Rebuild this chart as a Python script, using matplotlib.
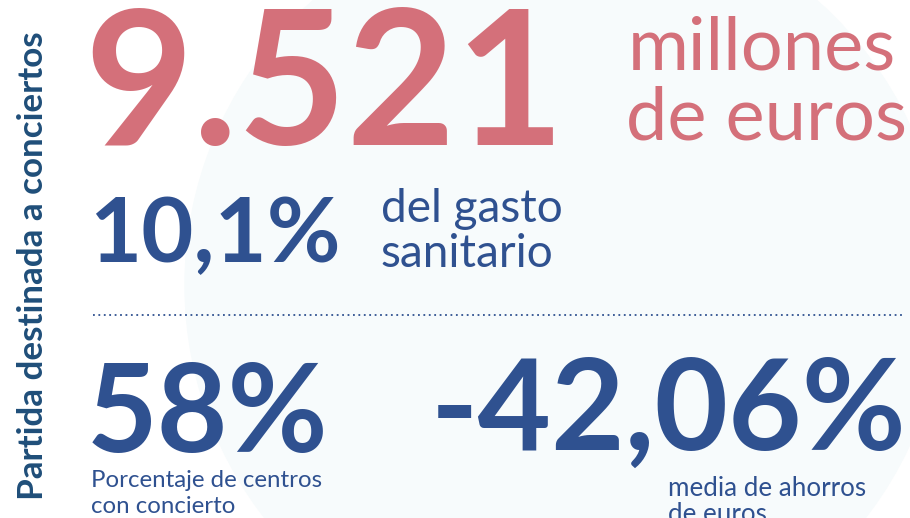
import matplotlib
matplotlib.use("Agg")
import matplotlib.pyplot as plt
from matplotlib.patches import Circle

# ---- data ----
main_value = "9.521"
main_unit = ["millones", "de euros"]
share_value = "10,1%"
share_label = ["del gasto", "sanitario"]
centers_value = "58%"
centers_label = ["Porcentaje de centros", "con concierto"]
savings_value = "-42,06%"
savings_label = ["media de ahorros", "de euros"]
side_title = "Partida destinada a conciertos"

RED = "#d4707a"
BLUE = "#2f5190"
DARK = "#1f4e79"
FONT = "Lato"

W, H = 910, 518
fig = plt.figure(figsize=(W / 100, H / 100), dpi=100)
ax = fig.add_axes([0, 0, 1, 1])
ax.set_xlim(0, W)
ax.set_ylim(H, 0)
ax.axis("off")
fig.patch.set_facecolor("white")

ax.add_patch(Circle((565, 285), 380, color="#f7fbfc", zorder=0))

PX = 0.72  # points per pixel at dpi 100

def txt(x, y, s, size_px, color, weight="normal", ha="left", **kw):
    ax.text(x, y, s, fontsize=size_px * PX, color=color, fontweight=weight,
            family=FONT, ha=ha, va="baseline", zorder=2, **kw)

txt(84, 145, main_value, 188, RED, "bold")
txt(628, 70, main_unit[0], 74, RED)
txt(626, 140, main_unit[1], 74, RED)

txt(89, 262, share_value, 90, BLUE, "bold")
txt(381, 222, share_label[0], 46, BLUE)
txt(381, 267, share_label[1], 46, BLUE)

ax.plot([93, 905], [315, 315], color=BLUE, lw=1.3, ls=(0, (1, 2)), zorder=2)

txt(87, 452, centers_value, 122, BLUE, "bold")
txt(91, 487, centers_label[0], 24, BLUE)
txt(91, 513, centers_label[1], 24, BLUE)

txt(906, 450, savings_value, 127, BLUE, "bold", ha="right")
txt(668, 496, savings_label[0], 26, BLUE)
txt(668, 522, savings_label[1], 26, BLUE)

ax.text(43, 500, side_title, fontsize=35 * PX, color=DARK, fontweight="bold",
        family=FONT, rotation=90, ha="left", va="baseline", rotation_mode="anchor", zorder=2)

fig.savefig("out.png", dpi=100)
